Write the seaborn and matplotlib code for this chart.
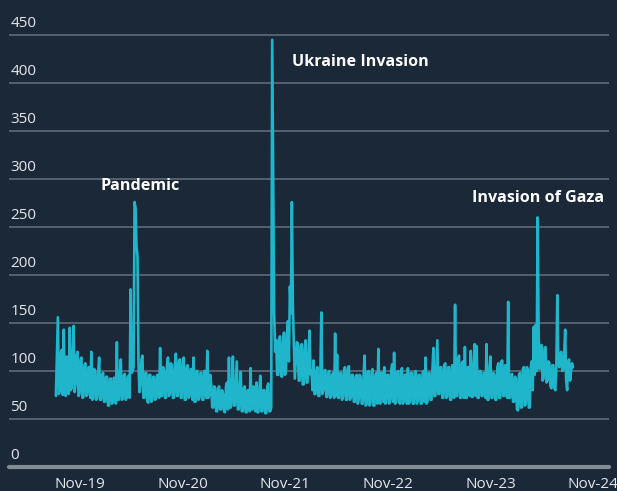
import pandas as pd
import numpy as np
import seaborn as sns
import matplotlib.pyplot as plt

# readings every half week (top / bottom of the band), Aug-2019 .. Aug-2024
vals_19 = [74, 116, 156, 76, 80, 118, 122, 75, 143, 78, 74, 115, 112, 76, 145, 80, 82, 120, 147, 78,
           86, 116, 120, 74, 76, 112, 114, 72, 73, 106, 108, 74, 75, 104, 104, 72, 120, 70, 71, 102,
           100, 70, 72, 98, 114, 70]
vals_20 = [70, 96, 98, 68, 68, 94, 94, 64, 64, 92, 92, 66, 68, 93, 90, 66, 130, 70, 70, 96,
           112, 70, 71, 95, 97, 70, 72, 94, 95, 72, 185, 98, 100, 104, 276, 270, 229, 220, 108, 78,
           86, 112, 116, 72, 72, 98, 98, 68, 67, 96, 96, 68, 70, 94, 94, 70, 72, 96, 92, 72,
           124, 74, 74, 104, 100, 72, 72, 106, 114, 74, 76, 108, 105, 72, 72, 106, 118, 74, 74, 110,
           112, 72, 72, 108, 114, 70, 70, 104, 106, 72, 74, 102, 102, 70, 114, 68, 68, 100, 100, 70,
           72, 98, 98, 70, 70, 100, 100, 72]
vals_21 = [121, 72, 75, 96, 86, 62, 62, 84, 82, 58, 58, 82, 84, 60, 60, 80, 76, 58, 57, 84,
           88, 60, 114, 62, 62, 86, 115, 64, 64, 88, 110, 60, 60, 84, 99, 58, 58, 82, 84, 57,
           57, 80, 80, 58, 103, 60, 60, 84, 80, 58, 88, 57, 57, 82, 95, 58, 58, 80, 80, 56,
           56, 84, 87, 58, 58, 62, 445, 300, 160, 120, 132, 96, 96, 134, 136, 95, 94, 130, 140, 96,
           100, 138, 152, 110, 188, 160, 276, 170]
vals_22 = [128, 92, 111, 130, 129, 90, 90, 126, 128, 86, 86, 124, 132, 88, 88, 120, 142, 96, 100, 80,
           111, 76, 76, 100, 104, 74, 74, 98, 161, 76, 80, 100, 101, 73, 73, 98, 100, 72, 74, 96,
           98, 72, 139, 74, 117, 72, 72, 98, 98, 70, 73, 100, 104, 70, 70, 102, 105, 70, 72, 96,
           96, 68, 68, 94, 96, 66, 70, 96, 94, 66, 66, 96, 116, 64, 65, 98, 100, 64, 67, 98,
           102, 64, 64, 96, 98, 66, 123, 68, 66, 98, 98, 68, 104, 66, 68, 96, 96, 66, 70, 100,
           107, 68, 119, 66, 68, 98, 100, 68, 66, 100, 103, 66, 70, 96]
vals_23 = [96, 66, 103, 66, 68, 98, 98, 66, 66, 98, 100, 66, 68, 96, 96, 66, 66, 98, 100, 68,
           114, 66, 68, 98, 98, 70, 70, 102, 124, 74, 74, 104, 132, 76, 76, 104, 104, 72, 72, 106,
           108, 72, 73, 104, 104, 70, 70, 106, 106, 72, 169, 74, 74, 110, 116, 72, 72, 108, 110, 72,
           125, 72, 72, 104, 104, 74, 121, 73, 73, 108, 128, 74, 126, 72, 72, 100, 100, 74, 74, 98,
           98, 72, 128, 70, 70, 100, 115, 72, 72, 98, 96, 70, 70, 104]
vals_24 = [108, 72, 72, 110, 111, 74, 74, 106, 104, 72, 172, 72, 72, 96, 97, 68, 68, 94, 92, 60,
           59, 96, 98, 62, 62, 102, 104, 64, 66, 104, 102, 62, 62, 104, 110, 80, 146, 96, 148, 100,
           260, 140, 102, 125, 127, 90, 92, 124, 125, 88, 90, 110, 108, 84, 82, 106, 106, 82, 80, 104,
           179, 110, 104, 118, 120, 100, 101, 118, 143, 90, 80, 110, 112, 90, 100, 108, 104]

values = vals_19 + vals_20 + vals_21 + vals_22 + vals_23 + vals_24
dates = pd.date_range('2019-08-07', periods=len(values), freq='84h')
df = pd.DataFrame({'date': dates, 'value': values})

y_ticks = [0, 50, 100, 150, 200, 250, 300, 350, 400, 450]
x_ticks = pd.to_datetime(['2019-11-01', '2020-11-01', '2021-11-01', '2022-11-01', '2023-11-01', '2024-11-01'])
x_labels = ['Nov-19', 'Nov-20', 'Nov-21', 'Nov-22', 'Nov-23', 'Nov-24']

events = ['Pandemic', 'Ukraine Invasion', 'Invasion of Gaza']
event_dates = pd.to_datetime(['2020-01-11', '2021-11-25', '2023-08-27'])
event_levels = [293, 422, 280]

bg = '#1b2838'
fg = '#e3e8ec'

sns.set_style('dark')
plt.rcParams['font.family'] = ['Open Sans', 'DejaVu Sans']

fig = plt.figure(figsize=(6.17, 4.91), dpi=100, facecolor=bg)
ax = fig.add_axes([9 / 617, 24 / 491, 600 / 617, 451.2 / 491])
ax.set_facecolor(bg)

sns.lineplot(data=df, x='date', y='value', ax=ax, color='#1fb5ca', linewidth=1.9)

for v in y_ticks:
    if v == 0:
        ax.axhline(v, color='#848c93', linewidth=3, clip_on=False, zorder=0)
    else:
        ax.axhline(v, color='#5a6672', linewidth=1.3, zorder=0)
    ax.annotate(str(v), xy=(0, v), xycoords=ax.get_yaxis_transform(),
                xytext=(1, 5.5), textcoords='offset points',
                ha='left', va='baseline', color=fg, fontsize=11, annotation_clip=False)

for name, d, lv in zip(events, event_dates, event_levels):
    ax.text(d, lv, name, color='white', fontsize=11.6, fontweight='bold', ha='left', va='center')

ax.set_ylim(0, 470)
ax.set_xlim(pd.Timestamp('2019-11-01') - pd.Timedelta(days=253),
            pd.Timestamp('2019-11-01') + pd.Timedelta(days=1883))
ax.set_xticks(x_ticks)
ax.set_xticklabels(x_labels)
ax.set_yticks([])
ax.tick_params(axis='x', length=0, pad=7, labelsize=11, labelcolor=fg)
ax.set_xlabel('')
ax.set_ylabel('')
ax.grid(False)
for s in ax.spines.values():
    s.set_visible(False)

fig.savefig('out.png', dpi=100, facecolor=bg)
